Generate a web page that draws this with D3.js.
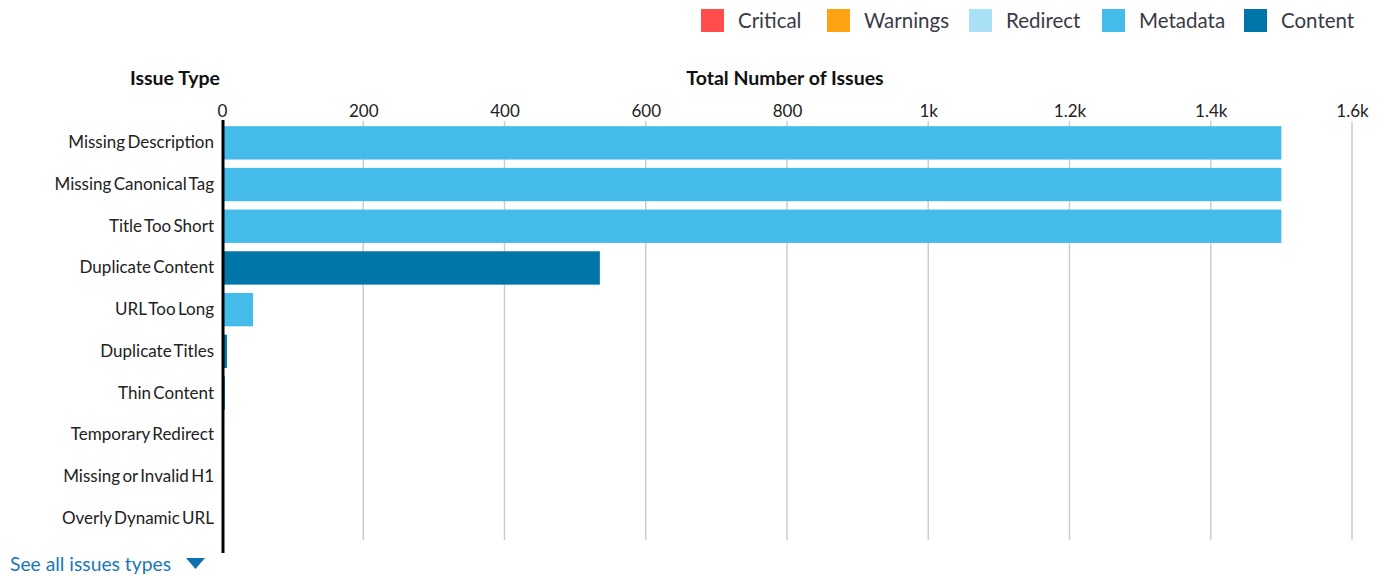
<!DOCTYPE html>
<html><head><meta charset="utf-8">
<script src="https://cdn.jsdelivr.net/npm/d3@7"></script>
<style>
html,body{margin:0;padding:0;background:#fff;}
svg{display:block;font-family:Lato,"Open Sans",sans-serif;}
</style></head>
<body><svg id="c" width="1383" height="576"></svg>
<script>
const categories = ["Missing Description","Missing Canonical Tag","Title Too Short","Duplicate Content","URL Too Long","Duplicate Titles","Thin Content","Temporary Redirect","Missing or Invalid H1","Overly Dynamic URL"];
const values = [1500,1500,1500,535,44,7,4,0,0,0];
const groups = ["Metadata","Metadata","Metadata","Content","Metadata","Content","Content","Redirect","Metadata","Metadata"];
const legendNames = ["Critical","Warnings","Redirect","Metadata","Content"];
const legendColors = ["#ff4d4d","#ffa312","#a9e0f5","#45bbea","#0075a7"];
const tickValues = [0,200,400,600,800,1000,1200,1400,1600];
const tickLabels = ["0","200","400","600","800","1k","1.2k","1.4k","1.6k"];

const svg = d3.select("#c");
const color = d3.scaleOrdinal().domain(legendNames).range(legendColors);
const x = d3.scaleLinear().domain([0,1600]).range([222,1352]);
const y = d3.scaleBand().domain(categories).range([122,539]).paddingInner(0.2).paddingOuter(0.1);

// legend
const lx = [701,827,969,1102,1244];
const lg = svg.append("g");
legendNames.forEach((n,i)=>{
  lg.append("rect").attr("x",lx[i]).attr("y",9).attr("width",23).attr("height",23).attr("fill",color(n));
  lg.append("text").attr("x",lx[i]+37).attr("y",21).attr("dy","0.35em").attr("font-size",20.5).attr("fill","#3a3a45").text(n);
});

// headers
svg.append("text").attr("x",220).attr("y",78).attr("dy","0.35em").attr("text-anchor","end").attr("font-size",19.5).attr("font-weight","bold").attr("fill","#111").text("Issue Type");
svg.append("text").attr("x",785).attr("y",78).attr("dy","0.35em").attr("text-anchor","middle").attr("font-size",19.5).attr("font-weight","bold").attr("fill","#111").text("Total Number of Issues");

// grid
svg.append("g").selectAll("line").data(tickValues.slice(1)).join("line")
  .attr("x1",d=>x(d)).attr("x2",d=>x(d)).attr("y1",121).attr("y2",540)
  .attr("stroke","#c9ced1").attr("stroke-width",1.5);

// top axis
const ax = svg.append("g").attr("transform","translate(0,121)")
  .call(d3.axisTop(x).tickValues(tickValues).tickFormat((d,i)=>tickLabels[i]).tickSize(0).tickPadding(4));
ax.select(".domain").remove();
ax.selectAll("text").attr("font-family","Lato,sans-serif").attr("font-size",17).attr("fill","#222");

// bars
svg.append("g").selectAll("rect").data(categories).join("rect")
  .attr("x",x(0)).attr("y",d=>y(d)).attr("height",y.bandwidth())
  .attr("width",(d,i)=>x(values[i])-x(0)).attr("fill",(d,i)=>color(groups[i]));

// y axis labels
const yax = svg.append("g").attr("transform","translate(222,0)")
  .call(d3.axisLeft(y).tickSize(0).tickPadding(8));
yax.select(".domain").remove();
yax.selectAll("text").attr("font-family","Lato,sans-serif").attr("font-size",17).attr("word-spacing","-2px").attr("fill","#222");

// black axis line
svg.append("line").attr("x1",223).attr("x2",223).attr("y1",120).attr("y2",553).attr("stroke","#000").attr("stroke-width",3);

// link
svg.append("text").attr("x",10).attr("y",564).attr("dy","0.35em").attr("font-size",19.3).attr("fill","#1a78b4").text("See all issues types");
svg.append("path").attr("d","M186,558 L205,558 L195.5,569 Z").attr("fill","#0f70ad");
</script></body></html>
